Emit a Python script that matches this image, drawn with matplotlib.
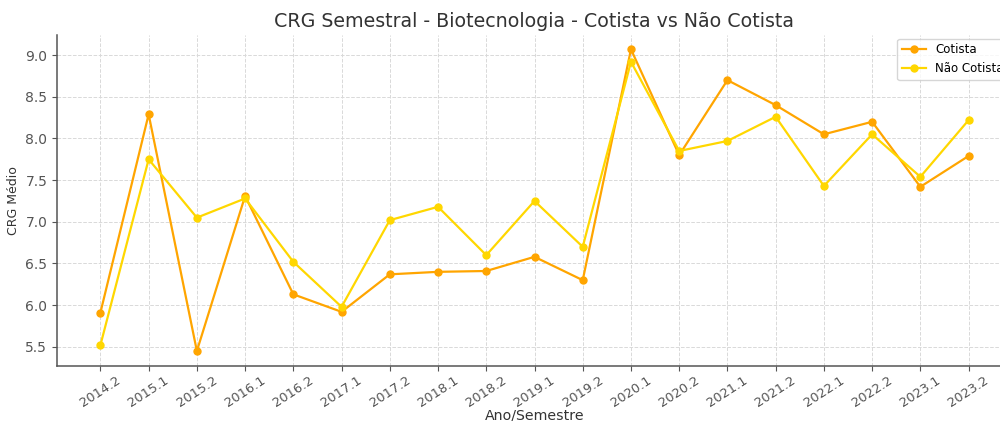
import matplotlib.pyplot as plt

semestres = ['2014.2', '2015.1', '2015.2', '2016.1', '2016.2', '2017.1', '2017.2',
             '2018.1', '2018.2', '2019.1', '2019.2', '2020.1', '2020.2', '2021.1',
             '2021.2', '2022.1', '2022.2', '2023.1', '2023.2']
cotista = [5.91, 8.29, 5.45, 7.31, 6.13, 5.92, 6.37, 6.40, 6.41, 6.58, 6.30,
           9.07, 7.80, 8.70, 8.40, 8.05, 8.20, 7.42, 7.79]
nao_cotista = [5.52, 7.75, 7.05, 7.28, 6.52, 5.98, 7.02, 7.18, 6.60, 7.25, 6.70,
               8.92, 7.85, 7.97, 8.26, 7.43, 8.05, 7.54, 8.22]

fig = plt.figure(figsize=(10, 4.21), dpi=100)
ax = fig.add_axes([0.057, 0.1306, 0.955, 0.786])

x = range(len(semestres))
ax.plot(x, cotista, marker='o', color='#FFA500', linewidth=1.6, markersize=5, label='Cotista')
ax.plot(x, nao_cotista, marker='o', color='#FFD700', linewidth=1.6, markersize=5, label='Não Cotista')

ax.set_xticks(list(x))
ax.set_xticklabels(semestres, rotation=33, fontsize=9.4, color='#333333')
ax.tick_params(axis='x', pad=2)
ax.tick_params(axis='y', labelsize=10, labelcolor='#333333')
ax.tick_params(colors='#555555')
ax.set_ylim(5.27, 9.24)
ax.set_title('CRG Semestral - Biotecnologia - Cotista vs Não Cotista', fontsize=13.7, color='#333333')
ax.set_xlabel('Ano/Semestre', fontsize=10.2, color='#333333')
ax.xaxis.set_label_coords(0.5, -0.127)
ax.set_ylabel('CRG Médio', fontsize=9, color='#333333')
ax.grid(True, linestyle='--', color='#d9d9d9', linewidth=0.7)
ax.spines['top'].set_visible(False)
ax.spines['right'].set_visible(False)
for s in ('left', 'bottom'):
    ax.spines[s].set_color('#555555')
    ax.spines[s].set_linewidth(1.1)
ax.legend(loc='upper right', fontsize=8.5, borderaxespad=0.3)

fig.savefig('out.png', dpi=100)
